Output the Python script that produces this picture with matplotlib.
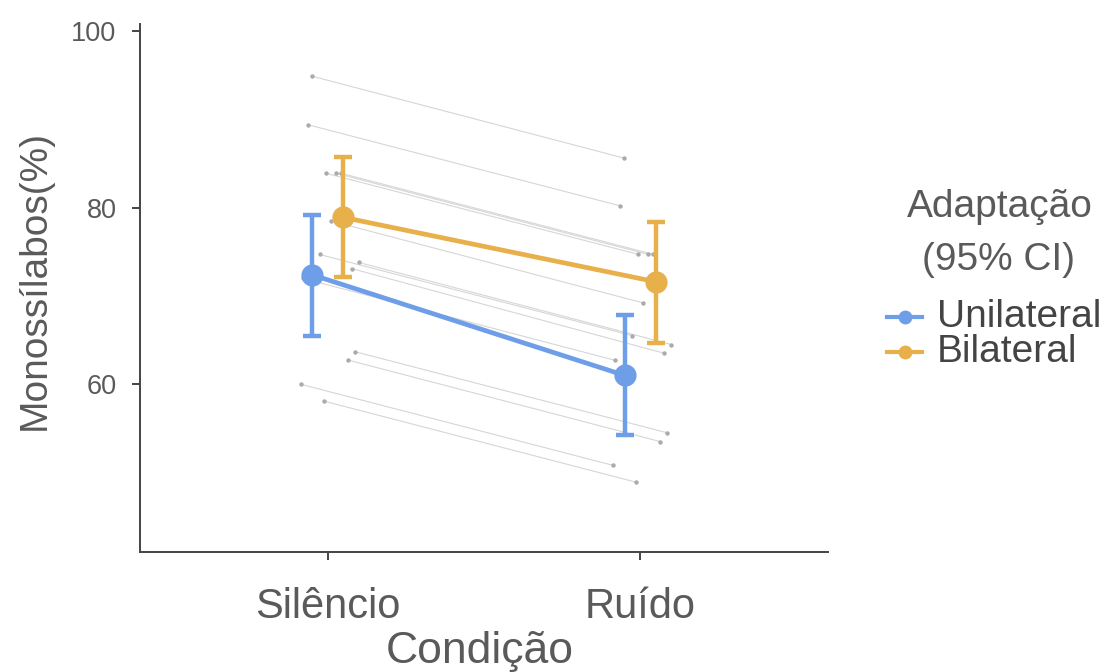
import matplotlib
matplotlib.use("Agg")
import matplotlib.pyplot as plt
from matplotlib.lines import Line2D

# ---- data ----
conditions = ["Silêncio", "Ruído"]
groups = ["Unilateral", "Bilateral"]
mean_unilateral = [72.4, 61.0]
ci_low_unilateral = [65.5, 54.2]
ci_high_unilateral = [79.2, 67.8]
mean_bilateral = [78.9, 71.6]
ci_low_bilateral = [72.1, 64.7]
ci_high_bilateral = [85.7, 78.4]

subj_silencio = [94.9, 89.4, 83.9, 83.9, 83.9, 78.5, 74.7, 73.8, 73.1, 72.0, 63.7, 62.75, 60.0, 58.1]
subj_ruido = [85.6, 80.2, 74.7, 74.7, 74.7, 69.2, 65.5, 64.5, 63.5, 62.7, 54.5, 53.5, 50.8, 48.9]
subj_jitter = [-0.051, -0.064, -0.006, 0.026, 0.042, 0.010, -0.026, 0.099, 0.077, -0.080,
               0.086, 0.064, -0.086, -0.013]

yticks = [60, 80, 100]

# ---- style ----
BLUE = "#6f9ee9"
ORANGE = "#e8b04a"
TXT = "#5a5a5a"
FONT = "Liberation Sans"
plt.rcParams["font.family"] = [FONT, "DejaVu Sans"]

W, H = 1108, 672
fig = plt.figure(figsize=(W / 100, H / 100), dpi=100)
ax = fig.add_axes([140 / W, 1 - 552 / H, 688 / W, (552 - 24) / H])

xpos = list(range(len(conditions)))

# individual subject lines
for s, r, j in zip(subj_silencio, subj_ruido, subj_jitter):
    ax.plot([xpos[0] + j, xpos[1] + j], [s, r], color="#d6d6d6", lw=0.8, zorder=1)
    ax.plot([xpos[0] + j, xpos[1] + j], [s, r], ls="none", marker="o", ms=3.2,
            color="#ababab", mec="none", zorder=1.5)

dodge = 0.05
for means, lo, hi, color, off in [
    (mean_unilateral, ci_low_unilateral, ci_high_unilateral, BLUE, -dodge),
    (mean_bilateral, ci_low_bilateral, ci_high_bilateral, ORANGE, dodge),
]:
    xs = [x + off for x in xpos]
    yerr = [[m - l for m, l in zip(means, lo)], [h - m for m, h in zip(means, hi)]]
    ax.errorbar(xs, means, yerr=yerr, fmt="none", ecolor=color, elinewidth=3.2,
                capsize=6.5, capthick=3.2, zorder=3)
    ax.plot(xs, means, color=color, lw=3.4, zorder=3.5, solid_capstyle="butt")
    ax.plot(xs, means, ls="none", marker="o", ms=16, color=color, mec="none", zorder=4)

ax.set_xlim(-0.6, 1.6)
ax.set_ylim(41.0, 100.8)
ax.set_xticks(xpos)
ax.set_xticklabels(conditions, fontsize=30, color=TXT)
ax.set_yticks(yticks)
ax.set_yticklabels([str(t) for t in yticks], fontsize=19.5, color=TXT)

for side in ["top", "right"]:
    ax.spines[side].set_visible(False)
for side in ["left", "bottom"]:
    ax.spines[side].set_color("#444444")
    ax.spines[side].set_linewidth(1.4)
ax.tick_params(axis="both", direction="out", length=6, width=1.4, color="#444444")
ax.tick_params(axis="x", pad=19)
ax.tick_params(axis="y", pad=11)

# axis titles
fig.text(480 / W, 1 - 651 / H, "Condição", ha="center", va="center", fontsize=32,
         color=TXT)
fig.text(35 / W, 1 - 280 / H, "Monossílabos(%)", ha="center", va="center", fontsize=28,
         rotation=90, color=TXT)

# legend (manual)
fig.text(1000 / W, 1 - 207 / H, "Adaptação", ha="center", va="center", fontsize=28,
         color=TXT)
fig.text(998 / W, 1 - 260 / H, "(95% CI)", ha="center", va="center", fontsize=28,
         color=TXT)
for label, color, yc in [(groups[0], BLUE, 317), (groups[1], ORANGE, 352)]:
    fy = 1 - yc / H
    fig.add_artist(Line2D([887 / W, 922 / W], [fy, fy], transform=fig.transFigure,
                          color=color, lw=3.0))
    fig.add_artist(Line2D([904.5 / W], [fy], transform=fig.transFigure, ls="none",
                          marker="o", ms=10, color=color, mec="none"))
    fig.text(937 / W, fy, label, ha="left", va="center", fontsize=28, color="#444444")

fig.savefig("out.png", dpi=100, facecolor="white")
